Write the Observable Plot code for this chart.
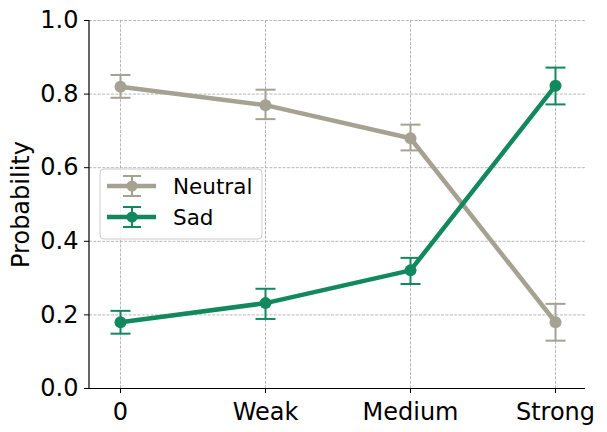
<!DOCTYPE html>
<html>
<head>
<meta charset="utf-8">
<script src="https://cdn.jsdelivr.net/npm/d3@7"></script>
<script src="https://cdn.jsdelivr.net/npm/@observablehq/plot@0.6"></script>
<style>
  html, body { margin: 0; padding: 0; background: #fff; }
  #chart { position: relative; width: 607px; height: 432px; }
</style>
</head>
<body>
<div id="chart"></div>
<script>
const categories = ["0", "Weak", "Medium", "Strong"];
const seriesNames = ["Neutral", "Sad"];
const neutral   = [0.82, 0.77, 0.68, 0.18];
const neutralLo = [0.79, 0.732, 0.647, 0.13];
const neutralHi = [0.852, 0.812, 0.717, 0.23];
const sad   = [0.18, 0.232, 0.321, 0.823];
const sadLo = [0.149, 0.189, 0.284, 0.772];
const sadHi = [0.211, 0.271, 0.355, 0.872];
const yTicks = [0, 0.2, 0.4, 0.6, 0.8, 1.0];
const colors = {Neutral: "#a5a292", Sad: "#11885e"};

const data = [];
categories.forEach((c, i) => {
  data.push({cat: c, series: "Neutral", v: neutral[i], lo: neutralLo[i], hi: neutralHi[i]});
});
categories.forEach((c, i) => {
  data.push({cat: c, series: "Sad", v: sad[i], lo: sadLo[i], hi: sadHi[i]});
});

const capSymbol = {
  draw(ctx) { ctx.moveTo(-10, 0); ctx.lineTo(10, 0); }
};

const marks = [
  Plot.gridX(categories, {x: d => d, stroke: "#b0b0b0", strokeOpacity: 1, strokeDasharray: "3,1.4", strokeWidth: 0.9}),
  Plot.gridY(yTicks, {y: d => d, stroke: "#b0b0b0", strokeOpacity: 1, strokeDasharray: "3,1.4", strokeWidth: 0.9}),
  Plot.axisY({ticks: yTicks, tickFormat: d3.format(".1f"), tickSize: 5, tickPadding: 6, fontSize: 24,
    label: "Probability", labelAnchor: "center", labelArrow: "none", labelOffset: 78}),
  Plot.axisX({tickSize: 5, tickPadding: 9, fontSize: 24, label: null})
];
for (const s of seriesNames) {
  const sd = data.filter(d => d.series === s);
  marks.push(
    Plot.ruleX(sd, {x: "cat", y1: "lo", y2: "hi", stroke: colors[s], strokeWidth: 2}),
    Plot.dot(sd, {x: "cat", y: "hi", symbol: capSymbol, stroke: colors[s], strokeWidth: 2, fill: "none"}),
    Plot.dot(sd, {x: "cat", y: "lo", symbol: capSymbol, stroke: colors[s], strokeWidth: 2, fill: "none"}),
    Plot.line(sd, {x: "cat", y: "v", stroke: colors[s], strokeWidth: 4.5}),
    Plot.dot(sd, {x: "cat", y: "v", r: 6, fill: colors[s], stroke: "none"})
  );
}
marks.push(Plot.ruleY([0], {stroke: "black", strokeWidth: 1.2}));

const plot = Plot.plot({
  width: 607,
  height: 432,
  marginLeft: 89,
  marginRight: 22,
  marginTop: 20,
  marginBottom: 44,
  style: {fontFamily: "DejaVu Sans", fontSize: "24px", background: "#fff", color: "black"},
  x: {type: "point", domain: categories, padding: 0.2, label: null},
  y: {domain: [0, 1], label: null},
  marks
});
document.getElementById("chart").appendChild(plot);

// left spine + legend
const svg = d3.select(plot);
svg.append("line").attr("x1", 89).attr("x2", 89).attr("y1", 20).attr("y2", 388)
  .attr("stroke", "black").attr("stroke-width", 1.2);

const lg = svg.append("g");
lg.append("rect").attr("x", 100).attr("y", 169).attr("width", 162).attr("height", 70)
  .attr("rx", 4).attr("fill", "white").attr("fill-opacity", 0.8)
  .attr("stroke", "#cccccc").attr("stroke-width", 1);
seriesNames.forEach((s, i) => {
  const cy = 186 + i * 31;
  const c = colors[s];
  const g = lg.append("g");
  g.append("line").attr("x1", 107).attr("x2", 156).attr("y1", cy).attr("y2", cy).attr("stroke", c).attr("stroke-width", 4.5);
  g.append("line").attr("x1", 132).attr("x2", 132).attr("y1", cy - 10).attr("y2", cy + 10).attr("stroke", c).attr("stroke-width", 2);
  g.append("line").attr("x1", 123).attr("x2", 141).attr("y1", cy - 10).attr("y2", cy - 10).attr("stroke", c).attr("stroke-width", 2);
  g.append("line").attr("x1", 123).attr("x2", 141).attr("y1", cy + 10).attr("y2", cy + 10).attr("stroke", c).attr("stroke-width", 2);
  g.append("circle").attr("cx", 132).attr("cy", cy).attr("r", 5.5).attr("fill", c);
  g.append("text").attr("x", 173).attr("y", cy + 7.5)
    .style("font-size", "21.5px").style("text-anchor", "start").style("font-family", "DejaVu Sans")
    .attr("fill", "black").text(s);
});
</script>
</body>
</html>
